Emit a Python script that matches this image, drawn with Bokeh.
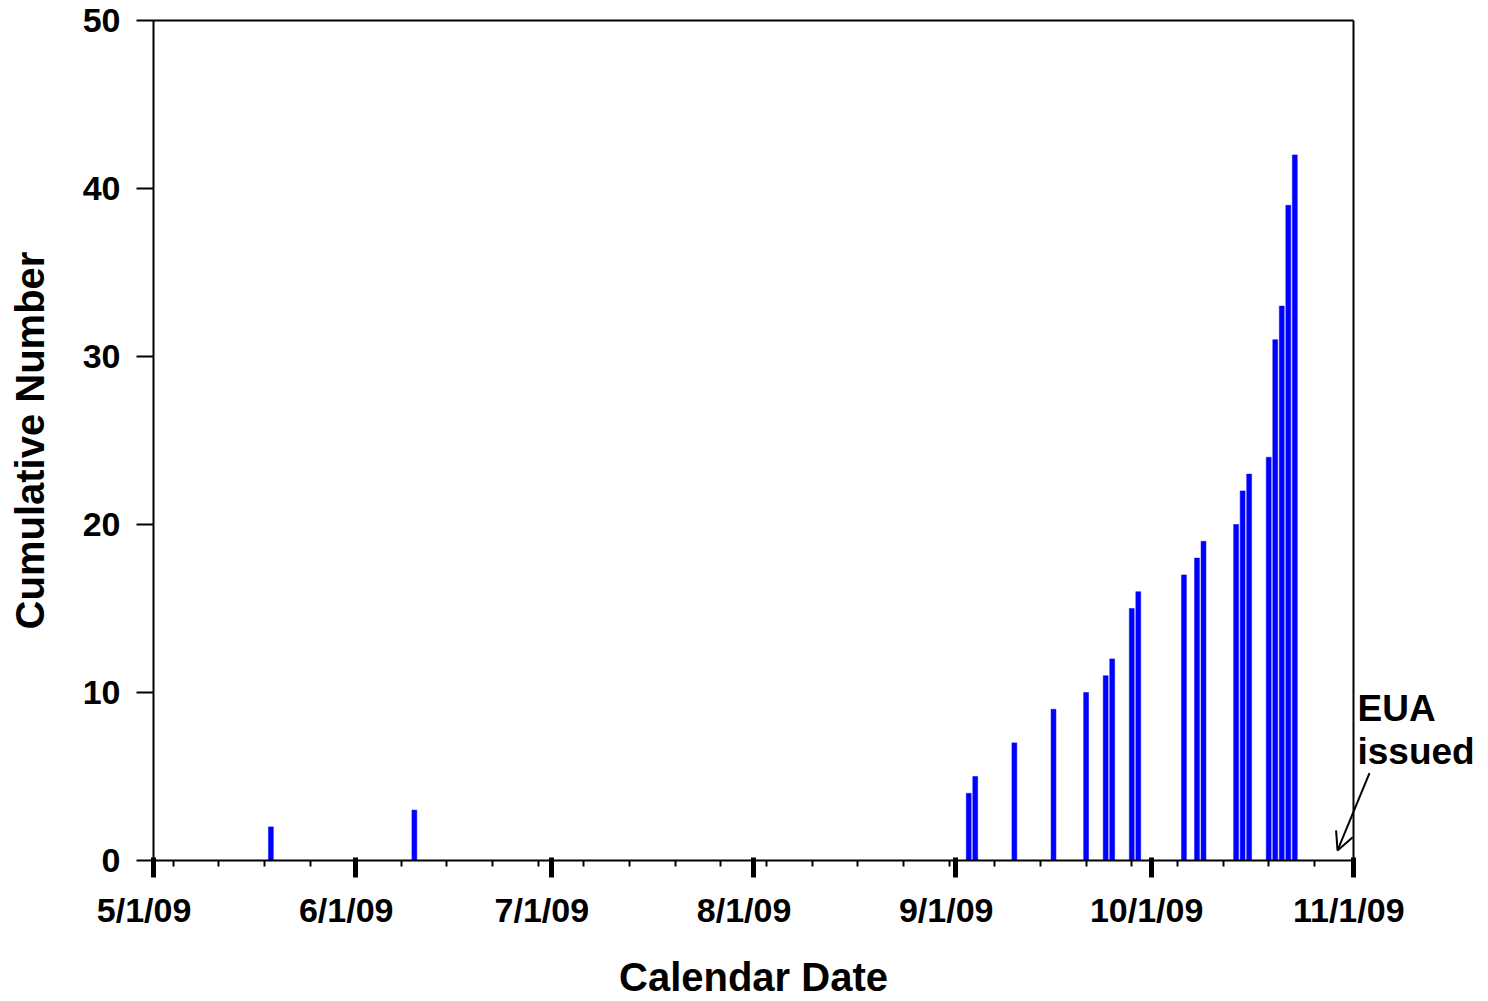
import math
import pandas as pd
from bokeh.plotting import figure
from bokeh.models import Range1d, FixedTicker, Label, Arrow, OpenHead
from bokeh.embed import file_html
from bokeh.resources import INLINE

# ---- data ----
dates = ["2009-05-19", "2009-06-10", "2009-09-03", "2009-09-04", "2009-09-10",
         "2009-09-16", "2009-09-21", "2009-09-24", "2009-09-25", "2009-09-28",
         "2009-09-29", "2009-10-06", "2009-10-08", "2009-10-09", "2009-10-14",
         "2009-10-15", "2009-10-16", "2009-10-19", "2009-10-20", "2009-10-21",
         "2009-10-22", "2009-10-23"]
counts = [2, 3, 4, 5, 7, 9, 10, 11, 12, 15, 16, 17, 18, 19, 20, 22, 23, 24,
          31, 33, 39, 42]

tick_dates = ["2009-05-01", "2009-06-01", "2009-07-01", "2009-08-01",
              "2009-09-01", "2009-10-01", "2009-11-01"]
tick_labels = ["5/1/09", "6/1/09", "7/1/09", "8/1/09", "9/1/09", "10/1/09", "11/1/09"]
y_ticks = [0, 10, 20, 30, 40, 50]

DAY = 86400000
NBSP = "\u00a0"


def ms(s):
    return int(pd.Timestamp(s).value // 10**6)


x_start = ms(tick_dates[0])
x_stop = ms(tick_dates[-1])
x_mid = ms(tick_dates[3])
major_ms = [ms(d) for d in tick_dates]
minor_ms = [int(t.value // 10**6) for t in pd.date_range("2009-05-04", "2009-10-26", freq="7D")]

FONT = "Liberation Sans"

# The frame covers the whole canvas; the axes are pinned to the box edges so the
# titles and the "EUA issued" note (all outside the box) are not clipped.
p = figure(width=1488, height=1001, x_axis_type="datetime",
           x_range=Range1d(x_start - 23.46 * DAY, x_stop + 20.70 * DAY),
           y_range=Range1d(-8.393, 51.19),
           output_backend="svg", toolbar_location=None,
           min_border_left=0, min_border_right=0,
           min_border_top=0, min_border_bottom=0)

p.background_fill_color = "white"
p.border_fill_color = "white"
p.outline_line_color = None
p.xgrid.visible = False
p.ygrid.visible = False

p.vbar(x=pd.to_datetime(dates), top=counts, width=0.75 * DAY,
       fill_color="#0000FF", line_color="#0000FF", line_width=0.5)

# top and right edges of the plot box
p.segment(x0=[x_start, x_stop], y0=[y_ticks[-1], 0],
          x1=[x_stop, x_stop], y1=[y_ticks[-1], y_ticks[-1]],
          line_color="black", line_width=2)

# x axis
xa = p.xaxis[0]
xa.fixed_location = 0
xa.bounds = (x_start, x_stop)
xa.ticker = FixedTicker(ticks=major_ms, minor_ticks=minor_ms)
xa.major_label_overrides = {m: lab + NBSP * (2 if len(lab) < 7 else 1)
                            for m, lab in zip(major_ms, tick_labels)}
xa.axis_line_width = 2
xa.major_tick_line_width = 5
xa.major_tick_in = 3
xa.major_tick_out = 17
xa.minor_tick_line_width = 2
xa.minor_tick_in = 0
xa.minor_tick_out = 6
xa.major_label_standoff = 14

# y axis
ya = p.yaxis[0]
ya.fixed_location = x_start
ya.bounds = (0, 50)
ya.ticker = FixedTicker(ticks=y_ticks, minor_ticks=[])
ya.axis_line_width = 2
ya.major_tick_line_width = 2
ya.major_tick_in = 0
ya.major_tick_out = 17
ya.minor_tick_line_color = None
ya.major_label_standoff = 16

for ax in (xa, ya):
    ax.axis_line_color = "black"
    ax.major_tick_line_color = "black"
    ax.major_label_text_font = FONT
    ax.major_label_text_font_size = "34px"
    ax.major_label_text_font_style = "bold"
    ax.major_label_text_color = "black"
xa.minor_tick_line_color = "black"

# axis titles
p.add_layout(Label(x=x_mid, y=-5.65, text="Calendar Date", text_font=FONT,
                   text_font_size="40px", text_font_style="bold",
                   text_align="center", text_baseline="top", text_color="black"))
p.add_layout(Label(x=x_start - 22.33 * DAY, y=25.0, text="Cumulative Number",
                   angle=math.pi / 2, text_font=FONT,
                   text_font_size="40px", text_font_style="bold",
                   text_align="center", text_baseline="top", text_color="black"))

# annotation
p.add_layout(Label(x=x_stop, y=10.24, x_offset=4, text="EUA", text_font=FONT,
                   text_font_size="37px", text_font_style="bold",
                   text_baseline="top", text_color="black"))
p.add_layout(Label(x=x_stop, y=7.68, x_offset=4, text="issued", text_font=FONT,
                   text_font_size="37px", text_font_style="bold",
                   text_baseline="top", text_color="black"))
p.add_layout(Arrow(x_start=x_stop + 2.45 * DAY, y_start=5.2,
                   x_end=x_stop - 2.45 * DAY, y_end=0.6,
                   line_width=2, line_color="black",
                   end=OpenHead(size=18, line_width=2, line_color="black")))

open("out.html", "w").write(file_html(p, INLINE))
